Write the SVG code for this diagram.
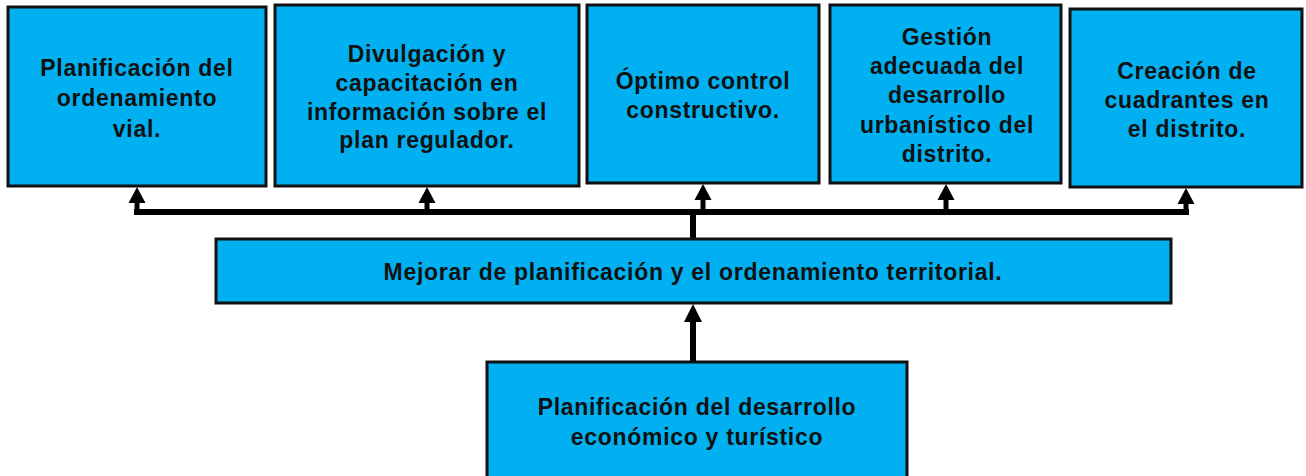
<svg xmlns="http://www.w3.org/2000/svg" width="1306" height="476" viewBox="0 0 1306 476">
<defs>
<style>
.box{fill:#00B0F0;stroke:#111;stroke-width:3}
.t{font-family:"Liberation Sans",Arial,sans-serif;font-weight:bold;font-size:23px;letter-spacing:0.7px;fill:#111;text-anchor:middle}
.c{fill:none;stroke:#000;stroke-width:6}
.s{fill:none;stroke:#000;stroke-width:5}
.ah{fill:#000}
</style>
</defs>
<rect width="1306" height="476" fill="#fff"/>
<g id="connectors">
<path class="c" d="M693,239 V212 H134"/>
<path class="c" d="M693,212 H1189"/>
<path class="s" d="M137,215 V200"/>
<polygon class="ah" points="137,187 128.5,203 145.5,203"/>
<path class="s" d="M427,215 V200"/>
<polygon class="ah" points="427,187 418.5,203 435.5,203"/>
<path class="s" d="M703,215 V198"/>
<polygon class="ah" points="703,184 694.5,200 711.5,200"/>
<path class="s" d="M946,215 V198"/>
<polygon class="ah" points="946,184 937.5,200 954.5,200"/>
<path class="s" d="M1186,215 V201"/>
<polygon class="ah" points="1186,188 1177.5,204 1194.5,204"/>
<path class="c" d="M693,362 V318"/>
<polygon class="ah" points="693,304 684,322 702,322"/>
</g>
<g id="n1"><rect class="box" x="8" y="7" width="258" height="179"/>
<text class="t" x="137" y="76">Planificación del</text>
<text class="t" x="137" y="106">ordenamiento</text>
<text class="t" x="137" y="137">vial.</text></g>
<g id="n2"><rect class="box" x="275" y="5" width="304" height="181"/>
<text class="t" x="427" y="62">Divulgación y</text>
<text class="t" x="427" y="91">capacitación en</text>
<text class="t" x="427" y="120">información sobre el</text>
<text class="t" x="427" y="148">plan regulador.</text></g>
<g id="n3"><rect class="box" x="587" y="5" width="232" height="178"/>
<text class="t" x="703" y="89">Óptimo control</text>
<text class="t" x="703" y="118">constructivo.</text></g>
<g id="n4"><rect class="box" x="830" y="5" width="231" height="178"/>
<text class="t" x="947" y="45">Gestión</text>
<text class="t" x="947" y="74">adecuada del</text>
<text class="t" x="947" y="103">desarrollo</text>
<text class="t" x="947" y="133">urbanístico del</text>
<text class="t" x="947" y="162">distrito.</text></g>
<g id="n5"><rect class="box" x="1070" y="9" width="232" height="178"/>
<text class="t" x="1187" y="79">Creación de</text>
<text class="t" x="1187" y="108">cuadrantes en</text>
<text class="t" x="1187" y="137">el distrito.</text></g>
<g id="n6"><rect class="box" x="216" y="239" width="955" height="64"/>
<text class="t" x="693" y="280">Mejorar de planificación y el ordenamiento territorial.</text></g>
<g id="n7"><rect class="box" x="487" y="362" width="420" height="120"/>
<text class="t" x="697" y="415">Planificación del desarrollo</text>
<text class="t" x="697" y="445">económico y turístico</text></g>
</svg>
